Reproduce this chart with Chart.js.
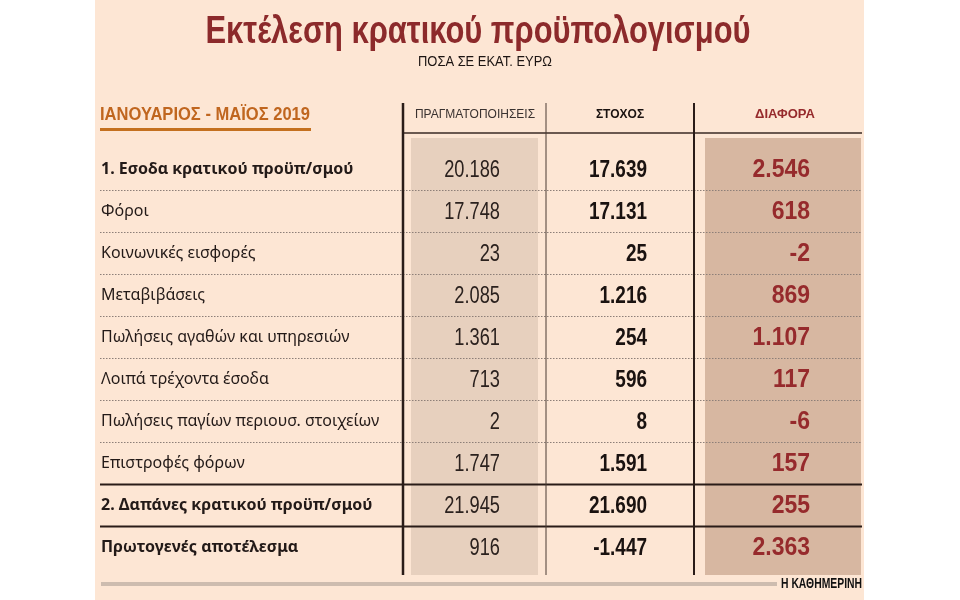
<!DOCTYPE html>
<html>
<head>
<meta charset="utf-8">
<script src="https://cdn.jsdelivr.net/npm/chart.js@4.4.1/dist/chart.umd.min.js"></script>
<style>
  html, body { margin: 0; background: #ffffff; }
</style>
</head>
<body>
<canvas id="budgetChart" width="960" height="600"></canvas>
<script>
const rowLabels = [
    '1. Εσοδα κρατικού προϋπ/σμού',
    'Φόροι',
    'Κοινωνικές εισφορές',
    'Μεταβιβάσεις',
    'Πωλήσεις αγαθών και υπηρεσιών',
    'Λοιπά τρέχοντα έσοδα',
    'Πωλήσεις παγίων περιουσ. στοιχείων',
    'Επιστροφές φόρων',
    '2. Δαπάνες κρατικού προϋπ/σμού',
    'Πρωτογενές αποτέλεσμα'
];
const boldRows = [0, 8, 9];
const realized = [20186, 17748, 23, 2085, 1361, 713, 2, 1747, 21945, 916];
const target = [17639, 17131, 25, 1216, 254, 596, 8, 1591, 21690, -1447];
const difference = [2546, 618, -2, 869, 1107, 117, -6, 157, 255, 2363];
const columnHeaders = ['ΠΡΑΓΜΑΤΟΠΟΙΗΣΕΙΣ', 'ΣΤΟΧΟΣ', 'ΔΙΑΦΟΡΑ'];

const titleText = 'Εκτέλεση κρατικού προϋπολογισμού';
const subtitleText = 'ΠΟΣΑ ΣΕ ΕΚΑΤ. ΕΥΡΩ';
const periodText = 'ΙΑΝΟΥΑΡΙΟΣ - ΜΑΪΟΣ 2019';
const sourceText = 'Η ΚΑΘΗΜΕΡΙΝΗ';

// Layout (offsets inside the table area, x scale runs 0..459)
const layout = {
    headerX: [72, 217, 382],
    numRight: [97, 244, 407],
    colLines: [0, 143, 291],
    band1: [8, 135],
    band3: [302, 458]
};

const cellStyles = [
    { font: 'normal 24px "Liberation Sans"', color: '#2b211e', sx: 0.76 },
    { font: 'bold 24px "Liberation Sans"', color: '#1a1210', sx: 0.79 },
    { font: 'bold 25px "Liberation Sans"', color: '#962a2c', sx: 0.92 }
];

function formatNumber(n) {
    const s = Math.abs(n).toString().replace(/\B(?=(\d{3})+(?!\d))/g, '.');
    return (n < 0 ? '-' : '') + s;
}

// text squeezed horizontally, the original uses condensed fonts
function squeezeText(ctx, text, x, y, font, color, align, sx, width) {
    ctx.save();
    ctx.font = font;
    ctx.fillStyle = color;
    ctx.textBaseline = 'middle';
    ctx.textAlign = align;
    if (width) sx = width / ctx.measureText(text).width;
    ctx.translate(x, y);
    ctx.scale(sx, 1);
    ctx.fillText(text, 0, 0);
    ctx.restore();
}

const tableDecor = {
    id: 'tableDecor',
    beforeDraw(chart) {
        const ctx = chart.ctx;
        const area = chart.chartArea;
        const x = chart.scales.x;

        ctx.save();
        ctx.fillStyle = '#ffffff';
        ctx.fillRect(0, 0, chart.width, chart.height);
        ctx.fillStyle = '#fde6d4';
        ctx.fillRect(95, 0, 769, chart.height);

        // shaded columns
        ctx.fillStyle = '#e7d0be';
        ctx.fillRect(x.getPixelForValue(layout.band1[0]), area.top + 5,
            x.getPixelForValue(layout.band1[1]) - x.getPixelForValue(layout.band1[0]), area.bottom - area.top - 5);
        ctx.fillStyle = '#d7b7a1';
        ctx.fillRect(x.getPixelForValue(layout.band3[0]), area.top + 5,
            x.getPixelForValue(layout.band3[1]) - x.getPixelForValue(layout.band3[0]), area.bottom - area.top - 5);
        ctx.restore();

        // title block
        squeezeText(ctx, titleText, 478, 33, 'bold 38px "Liberation Sans"', '#8c2a2b', 'center', 1, 545);
        squeezeText(ctx, subtitleText, 485, 62, 'normal 14px "Liberation Sans"', '#1c1412', 'center', 1, 134);
        squeezeText(ctx, periodText, 100, 115, 'bold 18px "Liberation Sans"', '#c0661f', 'left', 1, 210);
        ctx.save();
        ctx.fillStyle = '#c4701f';
        ctx.fillRect(100, 128, 211, 3);
        // footer
        ctx.fillStyle = '#cdbcaf';
        ctx.fillRect(101, 582, 676, 4);
        ctx.restore();
        squeezeText(ctx, sourceText, 781, 584, 'bold 14px "Liberation Sans"', '#111111', 'left', 1, 81);
    },
    beforeDatasetsDraw(chart) {
        const ctx = chart.ctx;
        const area = chart.chartArea;
        const x = chart.scales.x;
        const y = chart.scales.y;

        ctx.save();
        // row separators
        for (let i = 0; i < rowLabels.length - 1; i++) {
            const py = Math.round(y.getPixelForValue(i + 0.5)) + 0.5;
            ctx.beginPath();
            if (i >= 7) {
                ctx.setLineDash([]);
                ctx.lineWidth = 2;
                ctx.strokeStyle = '#2a1c18';
            } else {
                ctx.setLineDash([1.5, 1.5]);
                ctx.lineWidth = 1;
                ctx.strokeStyle = '#8d7f78';
            }
            ctx.moveTo(100, py);
            ctx.lineTo(area.right, py);
            ctx.stroke();
        }
        ctx.setLineDash([]);

        // header line
        ctx.strokeStyle = '#3a2a25';
        ctx.lineWidth = 1.5;
        ctx.beginPath();
        ctx.moveTo(area.left, area.top);
        ctx.lineTo(area.right, area.top);
        ctx.stroke();

        // column lines
        const widths = [2.5, 1, 2];
        layout.colLines.forEach((v, i) => {
            const px = x.getPixelForValue(v);
            ctx.lineWidth = widths[i];
            ctx.strokeStyle = i === 1 ? '#4a3a33' : '#2a1c18';
            ctx.beginPath();
            ctx.moveTo(px, 103);
            ctx.lineTo(px, area.bottom);
            ctx.stroke();
        });
        ctx.restore();
    },
    afterDatasetsDraw(chart) {
        const ctx = chart.ctx;
        chart.data.datasets.forEach((ds, c) => {
            const meta = chart.getDatasetMeta(c);
            const st = cellStyles[c];
            meta.data.forEach((pt, i) => {
                squeezeText(ctx, formatNumber(ds.data[i].v), pt.x, pt.y + 1, st.font, st.color, 'right', st.sx);
            });
        });
    }
};

const ctx = document.getElementById('budgetChart').getContext('2d');
const columns = [realized, target, difference];

new Chart(ctx, {
    type: 'scatter',
    data: {
        datasets: columns.map((vals, c) => ({
            label: columnHeaders[c],
            data: vals.map((v, i) => ({ x: layout.numRight[c], y: i, v: v })),
            pointRadius: 0
        }))
    },
    options: {
        responsive: false,
        animation: false,
        events: [],
        layout: { padding: { top: 103, left: 101, right: 98, bottom: 25 } },
        plugins: {
            legend: { display: false },
            tooltip: { enabled: false }
        },
        scales: {
            x: {
                type: 'linear',
                position: 'top',
                min: 0,
                max: 459,
                grid: { display: false, drawTicks: false },
                border: { display: false },
                afterFit: (s) => { s.height = 30; },
                afterBuildTicks: (s) => { s.ticks = layout.headerX.map(v => ({ value: v })); },
                ticks: {
                    autoSkip: false,
                    maxRotation: 0,
                    padding: 11,
                    callback: (v, i) => columnHeaders[i],
                    font: (c) => ({
                        family: '"Liberation Sans"',
                        size: c.index === 2 ? 13 : 12,
                        weight: c.index === 0 ? 'normal' : 'bold'
                    }),
                    color: (c) => ['#3a3230', '#1a1210', '#962a2c'][c.index]
                }
            },
            y: {
                type: 'linear',
                reverse: true,
                min: -0.857,
                max: 9.667,
                grid: { display: false, drawTicks: false },
                border: { display: false },
                afterFit: (s) => { s.width = 302; },
                afterBuildTicks: (s) => { s.ticks = rowLabels.map((_, i) => ({ value: i })); },
                ticks: {
                    autoSkip: false,
                    crossAlign: 'far',
                    callback: (v, i) => rowLabels[i],
                    font: (c) => ({
                        family: '"Noto Sans"',
                        size: 16,
                        weight: boldRows.includes(c.index) ? 'bold' : 'normal'
                    }),
                    color: '#231a18'
                }
            }
        }
    },
    plugins: [tableDecor]
});
</script>
</body>
</html>
